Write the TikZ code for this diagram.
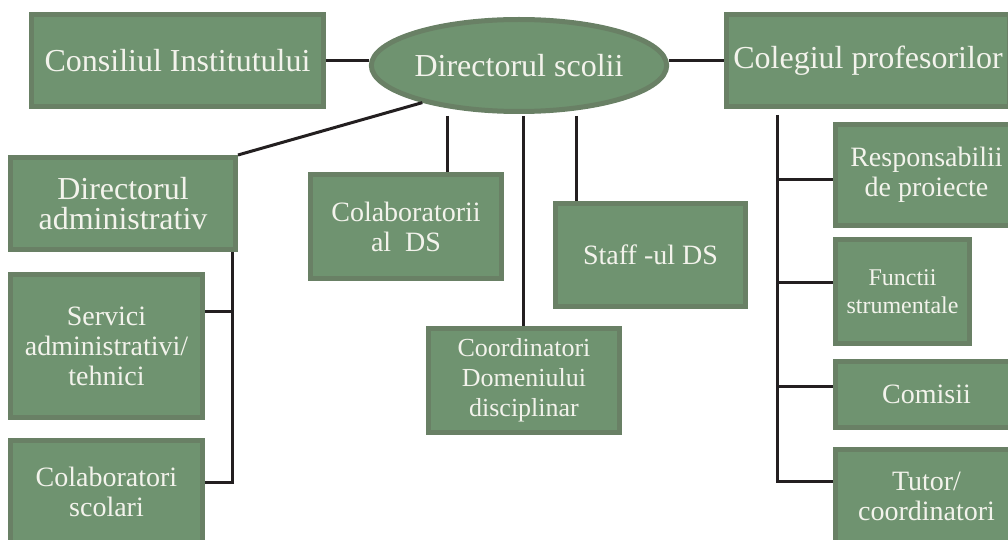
\documentclass[tikz,border=0pt]{standalone}
\usepackage{fontspec}
\setmainfont{Liberation Serif}
\usepackage{xcolor}
\usepackage{tikz}
\usetikzlibrary{shapes.geometric}
\definecolor{boxfill}{RGB}{111,147,112}
\definecolor{boxline}{RGB}{105,128,101}
\definecolor{boxtext}{RGB}{243,243,236}
\definecolor{linkcol}{RGB}{35,31,32}

\begin{document}
\begin{tikzpicture}[x=1pt,y=-1pt,
box/.style={draw=boxline,line width=5pt,fill=boxfill,text=boxtext,align=center,inner sep=0pt},
big/.style={font=\fontsize{32}{30}\selectfont},
mid/.style={font=\fontsize{28}{30}\selectfont},
small/.style={font=\fontsize{26}{30}\selectfont},
link/.style={draw=linkcol,line width=3pt}
]
\useasboundingbox (0,0) rectangle (1008,540);
\node[box,big,minimum width=292pt,minimum height=92pt] (consiliul) at (177.5,60.5) {Consiliul Institutului};
\node[box,big,ellipse,minimum width=289pt,minimum height=92pt] (director) at (519,65.5) {Directorul scolii};
\node[box,big,minimum width=283pt,minimum height=92pt] (colegiul) at (868,60.5) {Colegiul profesorilor};
\node[box,big,minimum width=225pt,minimum height=92pt] (diradm) at (123,203.5) {Directorul\\administrativ};
\node[box,mid,minimum width=192pt,minimum height=143pt] (servici) at (106.5,346) {Servici\\administrativi/\\tehnici};
\node[box,mid,minimum width=192pt,minimum height=102pt] (colscol) at (106.5,491.5) {Colaboratori\\scolari};
\node[box,mid,minimum width=191pt,minimum height=104pt] (colds) at (406,226.5) {Colaboratorii\\al~ DS};
\node[box,mid,minimum width=190pt,minimum height=103pt] (staff) at (650.5,255) {Staff -ul DS};
\node[box,small,minimum width=191pt,minimum height=104pt] (coord) at (524,380.5) {Coordinatori\\Domeniului\\disciplinar};
\node[box,mid,minimum width=182pt,minimum height=101pt] (resp) at (926.5,175) {Responsabilii\\de proiecte};
\node[box,font=\fontsize{24}{28}\selectfont,minimum width=134pt,minimum height=104pt] (functii) at (902.5,291.5) {Functii\\strumentale};
\node[box,mid,minimum width=182pt,minimum height=66pt] (comisii) at (926.5,394.5) {Comisii};
\node[box,mid,minimum width=182pt,minimum height=93pt] (tutor) at (926.5,496) {Tutor/\\coordinatori};

\draw[link] (consiliul.east) -- (consiliul.east -| director.west);
\draw[link] (director.east |- colegiul.west) -- (colegiul.west);
\draw[link] (director.201) -- (diradm.north east);

\coordinate (dsA) at (447,116);
\coordinate (dsB) at (523,116);
\coordinate (dsC) at (576,116);
\draw[link] (dsA) -- (dsA |- colds.north);
\draw[link] (dsB) -- (dsB |- coord.north);
\draw[link] (dsC) -- (dsC |- staff.north);

\coordinate (admS) at (232,311);
\coordinate (admC) at (232,482);
\draw[link] (diradm.south -| admS) -- (admC) -- (admC -| colscol.east);
\draw[link] (admS) -- (admS -| servici.east);

\coordinate (profTop) at (777,115);
\draw[link] (profTop) |- (tutor.west |- 0,481);
\foreach \nd/\yy in {resp/179,functii/282,comisii/386}
  \draw[link] (profTop |- 0,\yy) -- (\nd.west |- 0,\yy);
\end{tikzpicture}
\end{document}
